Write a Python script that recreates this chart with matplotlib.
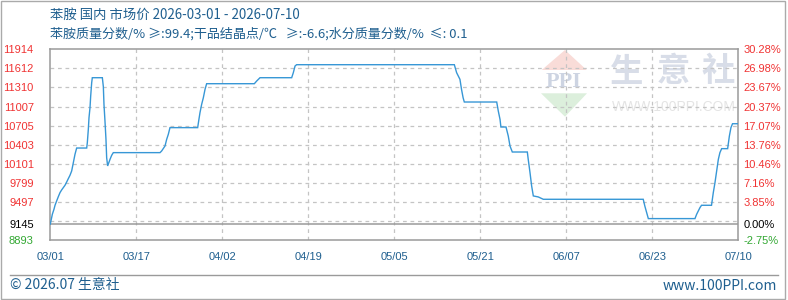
import numpy as np
import matplotlib
matplotlib.use("Agg")
import matplotlib.pyplot as plt
from matplotlib.patches import Polygon, Rectangle
from matplotlib.lines import Line2D

# ---------------- data ----------------
title1 = "苯胺 国内 市场价 2026-03-01 - 2026-07-10"
title2 = "苯胺质量分数/% ≥:99.4;干品结晶点/℃   ≥:-6.6;水分质量分数/%  ≤: 0.1"
x_labels = ["03/01", "03/17", "04/02", "04/19", "05/05", "05/21", "06/07", "06/23", "07/10"]
total_days = 131
base_price = 9145
left_ticks = [8893, 9145, 9497, 9799, 10101, 10403, 10705, 11007, 11310, 11612, 11914]
right_labels = ["-2.75%", "0.00%", "3.85%", "7.16%", "10.46%", "13.76%", "17.07%",
                "20.37%", "23.67%", "26.98%", "30.28%"]
grid_levels = [9195, 9497, 9799, 10101, 10403, 10705, 11007, 11310, 11612]

days = [0, 0.39, 0.7, 0.9, 1.21, 1.53, 1.85, 2.16, 2.48, 2.8, 3.12, 3.43, 3.75, 4.07,
        4.26, 4.45, 4.7, 5.02, 6.93, 7.05, 7.24, 7.37, 7.56, 7.69, 7.88, 8.0, 9.91,
        10.1, 10.22, 10.41, 10.6, 10.73, 10.92, 11.37, 11.69, 12.0, 20.89, 21.2, 21.84,
        22.16, 22.47, 22.79, 28.06, 28.25, 28.5, 28.82, 29.14, 29.46, 29.77, 38.85,
        39.29, 39.93, 45.96, 46.27, 46.6, 46.9, 76.93, 77.37, 78.0, 78.3, 78.6, 78.83,
        85.0, 85.3, 85.63, 85.8, 86.77, 87.2, 87.53, 87.97, 90.83, 91.0, 91.34, 91.65,
        91.97, 92.92, 93.87, 112.9, 113.2, 113.55, 113.87, 122.75, 123.07, 123.7, 124.0,
        125.9, 126.24, 126.56, 126.88, 127.2, 127.5, 127.83, 128.97, 129.3, 129.6,
        129.9, 131]
prices = [9145, 9301, 9380, 9443, 9512, 9580, 9644, 9686, 9723, 9760, 9812, 9865, 9918,
          9987, 10066, 10145, 10250, 10350, 10350, 10435, 10646, 10831, 10989, 11174,
          11385, 11464, 11464, 11322, 11042, 10778, 10488, 10198, 10066, 10171, 10235,
          10277, 10277, 10303, 10382, 10488, 10567, 10673, 10673, 10778, 10910, 11042,
          11147, 11279, 11369, 11369, 11411, 11464, 11464, 11543, 11649, 11670, 11670,
          11543, 11438, 11279, 11147, 11079, 11079, 10936, 10804, 10683, 10683, 10540,
          10382, 10287, 10287, 10171, 9960, 9749, 9591, 9575, 9538, 9538, 9432, 9327,
          9232, 9232, 9301, 9406, 9443, 9443, 9644, 9802, 9987, 10171, 10277, 10340,
          10340, 10540, 10673, 10735, 10735]

# ---------------- style ----------------
W, H = 788, 300
plt.rcParams['font.family'] = ['Noto Sans CJK SC', 'DejaVu Sans']
fig = plt.figure(figsize=(W / 100, H / 100), dpi=100)
fig.patch.set_facecolor('white')

def fx(x):
    return x / W

def fy(y):
    return 1 - y / H

L, R, T, B = 50.3, 738.3, 49.3, 240.0
ax = fig.add_axes([fx(L), fy(B), (R - L) / W, (B - T) / H])
ax.set_facecolor('none')
ax.set_xlim(0, total_days)
ax.set_ylim(left_ticks[0], left_ticks[-1])

red = '#f03333'
green = '#33a833'
blue_txt = '#1f5f8f'
grid_c = '#c4c4c4'
frame_c = '#9a9a9a'

# grid
for g in grid_levels:
    ax.axhline(g, color=grid_c, lw=0.9, ls=(0, (3, 3)), zorder=1)
xt = np.linspace(0, total_days, len(x_labels))
for xv in xt[1:-1]:
    ax.axvline(xv, color=grid_c, lw=0.9, ls=(0, (3, 3)), zorder=1)
ax.axhline(base_price, color=frame_c, lw=1.1, zorder=2)

# line
ax.plot(days, prices, color='#3797d6', lw=1.0, zorder=4, solid_joinstyle='miter')

for s in ax.spines.values():
    s.set_color(frame_c)
    s.set_linewidth(1.1)

# ticks
ax.set_xticks(xt)
ax.set_xticklabels(x_labels)
ax.tick_params(axis='x', length=0, pad=9, labelsize=8, labelcolor=blue_txt)
for lab in ax.get_xticklabels():
    lab.set_family(['Liberation Sans'])

ax.set_yticks(left_ticks)
ax.set_yticklabels([str(v) for v in left_ticks])
ax.tick_params(axis='y', length=0, pad=12, labelsize=8)
for lab, v in zip(ax.get_yticklabels(), left_ticks):
    lab.set_family(['Liberation Sans'])
    lab.set_color(green if v < base_price else ('black' if v == base_price else red))

ax2 = ax.twinx()
ax2.set_ylim(ax.get_ylim())
ax2.set_yticks(left_ticks)
ax2.set_yticklabels(right_labels)
ax2.tick_params(axis='y', length=0, pad=3.5, labelsize=8)
for lab, v in zip(ax2.get_yticklabels(), left_ticks):
    lab.set_family(['Liberation Sans'])
    lab.set_color(green if v < base_price else ('black' if v == base_price else red))
for s in ax2.spines.values():
    s.set_visible(False)

# watermark (figure coordinates)
tri_r = Polygon([(fx(541.7), fy(70)), (fx(586.7), fy(70)), (fx(565), fy(50))],
                closed=True, transform=fig.transFigure, facecolor='#f9dcd8',
                edgecolor='none', zorder=0.5)
tri_g = Polygon([(fx(541), fy(93.3)), (fx(587), fy(93.3)), (fx(565), fy(116.7))],
                closed=True, transform=fig.transFigure, facecolor='#dcefdc',
                edgecolor='none', zorder=0.5)
ax.add_patch(tri_r)
ax.add_patch(tri_g)
tri_r.set_clip_on(False)
tri_g.set_clip_on(False)
ax.text(fx(564), fy(82), "PPI", transform=fig.transFigure, ha='center', va='center',
        fontsize=16, color='#cdd4e2', family=['Liberation Serif'], weight='bold', zorder=0.5)
for ch, cx in zip("生意社", [626.7, 673, 718]):
    ax.text(fx(cx), fy(72), ch, transform=fig.transFigure, ha='center', va='center',
            fontsize=24, color='#d8dde8', weight='bold', zorder=0.5)
ax.text(fx(673.5), fy(106.7), "WWW.100PPI.COM", transform=fig.transFigure, ha='center',
        va='center', fontsize=10, color='#e4e4e4', family=['Liberation Sans'], zorder=0.5)

# titles
fig.text(fx(50), fy(15), title1, ha='left', va='center', fontsize=9.6, color=blue_txt)
fig.text(fx(50), fy(34), title2, ha='left', va='center', fontsize=9.4, color=blue_txt)

# footer
fig.add_artist(Line2D([fx(10), fx(778)], [fy(275), fy(275)], color=frame_c, lw=1.0,
                      transform=fig.transFigure))
fig.text(fx(10), fy(285.5), "© 2026.07 生意社", ha='left', va='center', fontsize=10,
         color=blue_txt)
fig.text(fx(777), fy(285.5), "www.100PPI.com", ha='right', va='center', fontsize=10,
         color=blue_txt)

# outer border
fig.add_artist(Rectangle((fx(1), fy(299)), fx(785) - fx(1), fy(0.5) - fy(299),
                         transform=fig.transFigure, fill=False, edgecolor='#aaaaaa', lw=1.0))

fig.savefig('out.png', dpi=100, facecolor='white')
